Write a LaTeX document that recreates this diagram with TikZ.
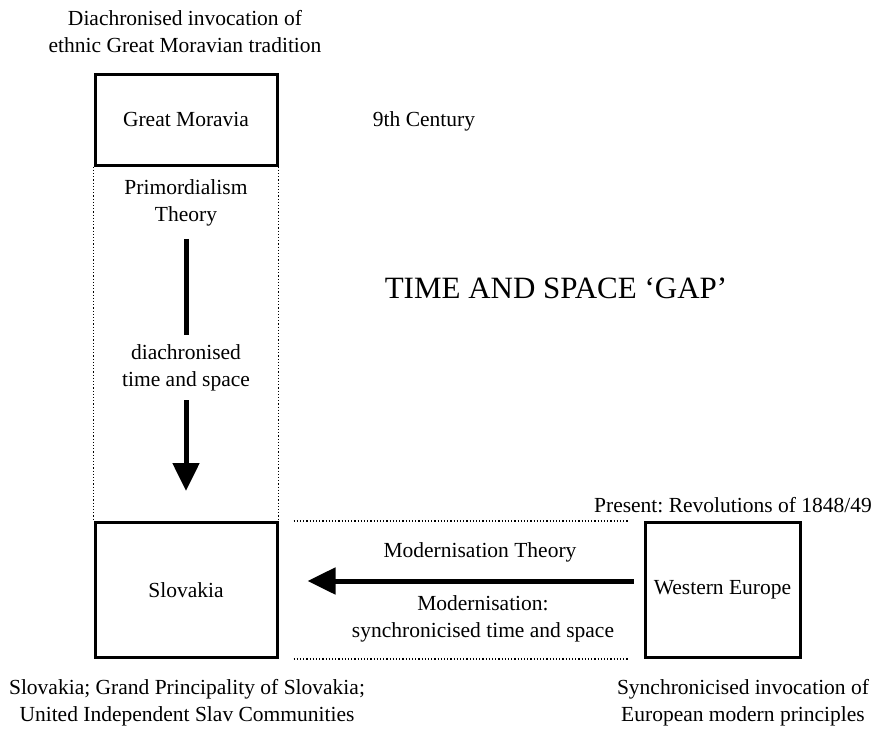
\documentclass[tikz,border=0pt]{standalone}
\usepackage{fontspec}
\setmainfont{Liberation Serif}
\usetikzlibrary{arrows.meta}
\frenchspacing
\begin{document}
\begin{tikzpicture}[x=1pt,y=-1pt,
  every node/.style={font=\fontsize{21.5}{27}\selectfont, align=center, inner sep=0pt},
  box/.style={draw, line width=3pt},
  dots/.style={dotted, line width=1.2pt},
  bigarrow/.style={line width=5pt, -{Triangle[length=28pt,width=26pt]}}]
  \useasboundingbox (0,0) rectangle (873,745);
  % eras
  \node (topnote) at (185,31.5) {Diachronised invocation of\\ethnic Great Moravian tradition};
  \node[box, minimum width=182pt, minimum height=91pt] (moravia) at (186,119.5) {Great Moravia};
  \node (century) at (424,121) {9th Century};
  \node[font=\fontsize{31}{36}\selectfont] (gap) at (556,288) {TIME AND SPACE ‘GAP’};
  \node (prim) at (186,202.5) {Primordialism\\Theory};
  \node[box, minimum width=182pt, minimum height=135pt] (slovakia) at (186,590) {Slovakia};
  \node[box, minimum width=155pt, minimum height=135pt] (west) at (722.5,590) {Western Europe};
  \node (present) at (733,505) {Present: Revolutions of 1848/49};
  \node (modtheory) at (480,552) {Modernisation Theory};
  \node (modsync) at (483,619) {Modernisation:\\synchronicised time and space};
  \node (leftnote) at (187,703) {Slovakia; Grand Principality of Slovakia;\\United Independent Slav Communities};
  \node (rightnote) at (743,703) {Synchronicised invocation of\\European modern principles};
  % frames
  \draw[dots] (moravia.south west) -- (slovakia.north west);
  \draw[dots] (moravia.south east) -- (slovakia.north east);
  \draw[dots, shorten <=15pt, shorten >=15pt] (slovakia.north east) -- (west.north west);
  \draw[dots, shorten <=15pt, shorten >=15pt] (slovakia.south east) -- (west.south west);
  % arrows
  \draw[bigarrow, shorten <=13pt, shorten >=30pt] (prim.south) -- (slovakia.north)
    node[pos=0.48, fill=white, inner ysep=9pt] (diachr) {diachronised\\time and space};
  \draw[bigarrow] ([xshift=-10pt,yshift=9pt]west.west) -- ([xshift=29pt,yshift=9pt]slovakia.east);
\end{tikzpicture}
\end{document}
